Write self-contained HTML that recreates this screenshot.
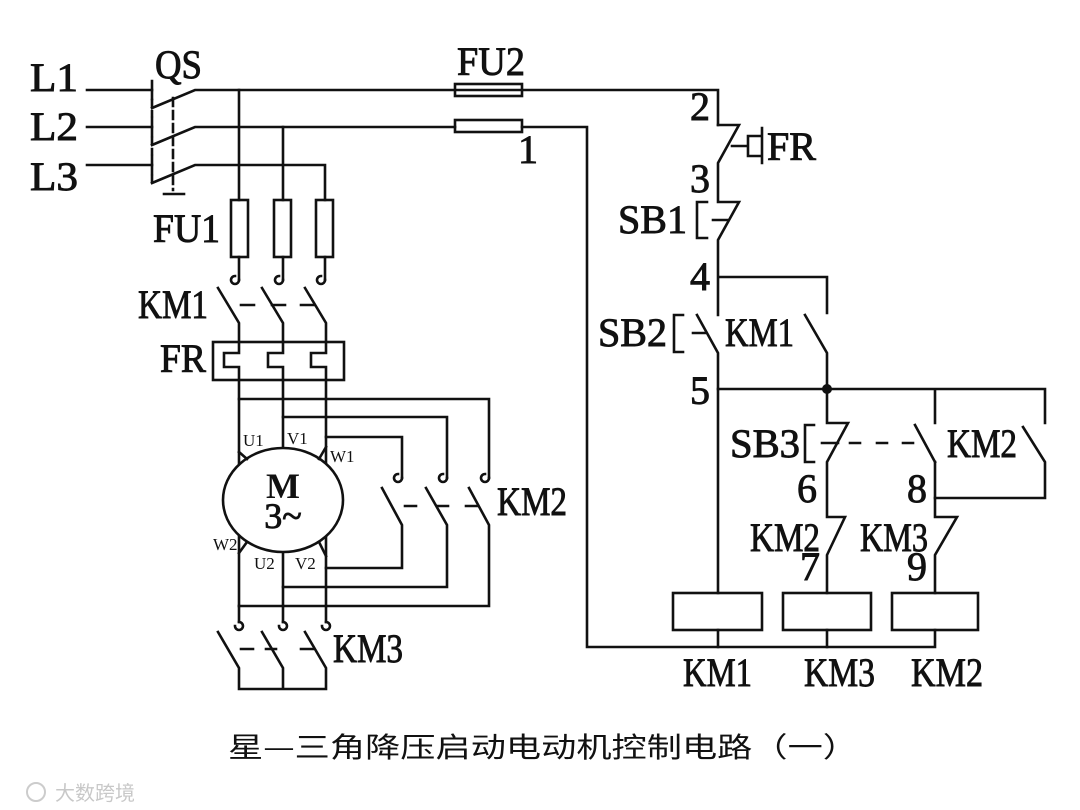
<!DOCTYPE html>
<html><head><meta charset="utf-8"><style>
html,body{margin:0;padding:0;background:#fff;}
svg{display:block}
text{font-family:"Liberation Serif","Noto Serif CJK SC",serif;fill:#111}
.big text{stroke:#111;stroke-width:0.9}
</style></head><body>
<svg width="1080" height="810" viewBox="0 0 1080 810" xmlns="http://www.w3.org/2000/svg">
<g stroke="#111" stroke-width="2.6" fill="none" stroke-linecap="square">
<path d="M87 90H152M87 127H152M87 165H152"/>
<path d="M152 81V99M152 118V136M152 156V174"/>
<path d="M152 108L195 90H718V125M152 145L195 127H455M152 183L195 165H325V200"/>
<path d="M152 100V116M152 138V154M152 176V182" stroke-dasharray="6 5"/>
<path d="M173 98V190" stroke-dasharray="8 5"/>
<path d="M164 194H184"/>
<rect x="455" y="84" width="67" height="12"/>
<rect x="455" y="120" width="67" height="12"/>
<path d="M522 127H587V647H935V630"/>
<path d="M239 90V200M283 127V200"/>
<rect x="231" y="200" width="17" height="57"/>
<rect x="274" y="200" width="17" height="57"/>
<rect x="316" y="200" width="17" height="57"/>
<path d="M239 257V280M283 257V280M325 257V280"/>
<path d="M239 280a4 4 0 1 1 -4 -4" /><path d="M283 280a4 4 0 1 1 -4 -4"/><path d="M325 280a4 4 0 1 1 -4 -4"/>
<path d="M218 288L239 323V353H224V367H239V606M262 288L283 323V353H268V367H283V606M305 288L326 323V353H311V367H326V606"/>
<path d="M241 305H254M272 305H285M301 305H314"/>
<rect x="213" y="342" width="131" height="38"/>
<path d="M239 399H489V478M283 417H447V478M326 437H402V478"/>
<path d="M402 478a4 4 0 1 1 -4 -4M447 478a4 4 0 1 1 -4 -4M489 478a4 4 0 1 1 -4 -4"/>
<path d="M382 488L402 525V568H326M426 488L447 525V587H283M469 488L489 525V606H239"/>
<path d="M405 506H416M437 506H448M466 506H478"/>
<ellipse cx="283" cy="500" rx="60" ry="52" fill="#fff"/>
<path d="M239 452L247 459M326 447L319 459M247 542L239 553M319 542L326 556"/>
<path d="M239 606V622M283 606V622M326 606V622"/>
<path d="M239 622a4 4 0 1 1 -4 4M283 622a4 4 0 1 1 -4 4M326 622a4 4 0 1 1 -4 4"/>
<path d="M218 632L239 668V689H326V668L305 632M262 632L283 668V689"/>
<path d="M241 649H253M266 649H276M301 649H313"/>
<path d="M718 125H739L718 163V202H739L718 240V277H827V313M718 277V315"/>
<path d="M732 146H748M748 136V156M748 136H762M748 156H762M762 128V163"/>
<path d="M707 202H697V238H707M713 220H727"/>
<path d="M697 315L718 353V389M683 315H674V352H683M693 333H705"/>
<path d="M805 315L827 353V423H848L827 462V517H845L827 555V593"/>
<path d="M718 389H1045V423M935 389V423M935 462V517H957L935 555V593M718 389V593"/>
<path d="M1023 427L1045 462V498H935"/>
<path d="M915 425L935 462"/>
<path d="M814 425H805V462H814M822 443H838M850 443H860M877 443H887M903 443H913"/>
<rect x="673" y="593" width="89" height="37"/>
<rect x="783" y="593" width="88" height="37"/>
<rect x="892" y="593" width="86" height="37"/>
<path d="M718 630V647M827 630V647"/>
</g>
<circle cx="827" cy="389" r="5" fill="#111"/>
<g font-size="40" class="big">
<text x="30" y="91" textLength="48" lengthAdjust="spacingAndGlyphs">L1</text>
<text x="30" y="140" textLength="48" lengthAdjust="spacingAndGlyphs">L2</text>
<text x="30" y="190" textLength="48" lengthAdjust="spacingAndGlyphs">L3</text>
<text x="155" y="78" textLength="47" lengthAdjust="spacingAndGlyphs">QS</text>
<text x="153" y="242" textLength="67" lengthAdjust="spacingAndGlyphs">FU1</text>
<text x="138" y="318" textLength="70" lengthAdjust="spacingAndGlyphs">KM1</text>
<text x="160" y="372" textLength="46" lengthAdjust="spacingAndGlyphs">FR</text>
<text x="497" y="515" textLength="70" lengthAdjust="spacingAndGlyphs">KM2</text>
<text x="333" y="662" textLength="70" lengthAdjust="spacingAndGlyphs">KM3</text>
<text x="457" y="75" textLength="68" lengthAdjust="spacingAndGlyphs">FU2</text>
<text x="518" y="163">1</text>
<text x="690" y="120">2</text>
<text x="690" y="192">3</text>
<text x="767" y="160" textLength="49" lengthAdjust="spacingAndGlyphs">FR</text>
<text x="618" y="233" textLength="69" lengthAdjust="spacingAndGlyphs">SB1</text>
<text x="690" y="290">4</text>
<text x="598" y="346" textLength="69" lengthAdjust="spacingAndGlyphs">SB2</text>
<text x="725" y="346" textLength="69" lengthAdjust="spacingAndGlyphs">KM1</text>
<text x="690" y="404">5</text>
<text x="730" y="457" textLength="70" lengthAdjust="spacingAndGlyphs">SB3</text>
<text x="947" y="457" textLength="70" lengthAdjust="spacingAndGlyphs">KM2</text>
<text x="797" y="502">6</text>
<text x="907" y="502">8</text>
<text x="750" y="551" textLength="70" lengthAdjust="spacingAndGlyphs">KM2</text>
<text x="860" y="551" textLength="68" lengthAdjust="spacingAndGlyphs">KM3</text>
<text x="800" y="580">7</text>
<text x="907" y="580">9</text>
<text x="683" y="686" textLength="69" lengthAdjust="spacingAndGlyphs">KM1</text>
<text x="804" y="686" textLength="71" lengthAdjust="spacingAndGlyphs">KM3</text>
<text x="911" y="686" textLength="72" lengthAdjust="spacingAndGlyphs">KM2</text>
</g>
<g font-size="17">
<text x="243" y="446">U1</text>
<text x="287" y="444">V1</text>
<text x="330" y="462">W1</text>
<text x="213" y="550">W2</text>
<text x="254" y="569">U2</text>
<text x="295" y="569">V2</text>
</g>
<text x="283" y="498" font-size="36" font-weight="bold" text-anchor="middle">M</text>
<text x="283" y="528" font-size="36" text-anchor="middle" stroke="#111" stroke-width="0.9">3~</text>
<text x="228" y="757" font-size="28" textLength="630" lengthAdjust="spacingAndGlyphs" style="font-family:'Noto Sans CJK SC',sans-serif">星—三角降压启动电动机控制电路（一）</text>
<text x="55" y="800" font-size="20" style="fill:#c8c8c8;font-family:'Noto Sans CJK SC',sans-serif">大数跨境</text>
<circle cx="36" cy="792" r="9" fill="none" stroke="#ccc" stroke-width="2"/>
</svg>
</body></html>
